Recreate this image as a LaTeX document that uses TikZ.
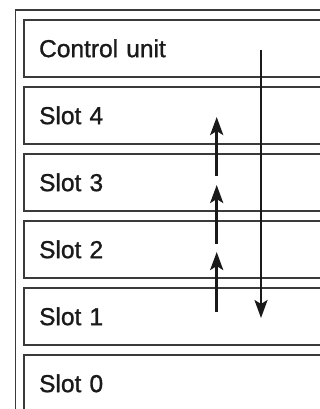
\documentclass[tikz,border=0pt]{standalone}
\usepackage{fontspec}
\setmainfont{Liberation Sans}
\newfontfamily\medfont[FakeBold=1.2]{Liberation Sans}
\usetikzlibrary{arrows.meta}
\definecolor{boxline}{HTML}{3A3A3A}
\definecolor{txt}{HTML}{1A1A1A}
\tikzset{
  slotbox/.style={draw=boxline, line width=1.7pt, anchor=north west,
    minimum width=330pt, minimum height=57pt, text width=300pt,
    align=left, inner xsep=13.5pt, inner ysep=0pt,
    font=\medfont\fontsize{24.5}{28}\selectfont, text=txt},
  frameline/.style={draw=boxline, line width=1.4pt},
  flow/.style={line width=2.7pt, draw=txt,
    -{Stealth[length=18pt,width=13pt,inset=4pt]}},
}
\begin{document}
\begin{tikzpicture}[x=1pt,y=-1pt]
\useasboundingbox (0,0) rectangle (320,409);
\clip (0,0) rectangle (320,409);
\fill[white] (0,0) rectangle (320,409);
\draw[frameline] (15.7,10) rectangle (360,440);
\node[slotbox] (cu) at (23.3,19) {Control unit};
\node[slotbox] (s4) at (23.3,86) {Slot 4};
\node[slotbox] (s3) at (23.3,153) {Slot 3};
\node[slotbox] (s2) at (23.3,220) {Slot 2};
\node[slotbox] (s1) at (23.3,287) {Slot 1};
\node[slotbox] (s0) at (23.3,354) {Slot 0};
\coordinate (a1) at (216.7,312);
\coordinate (a2) at (216.7,252);
\coordinate (b1) at (216.7,244);
\coordinate (b2) at (216.7,185);
\coordinate (c1) at (216.7,176);
\coordinate (c2) at (216.7,117);
\coordinate (d1) at (261,50);
\coordinate (d2) at (261,318);
\draw[flow] (a1) -- (a2);
\draw[flow] (b1) -- (b2);
\draw[flow] (c1) -- (c2);
\draw[flow, line width=2.4pt] (d1) -- (d2);
\end{tikzpicture}
\end{document}
